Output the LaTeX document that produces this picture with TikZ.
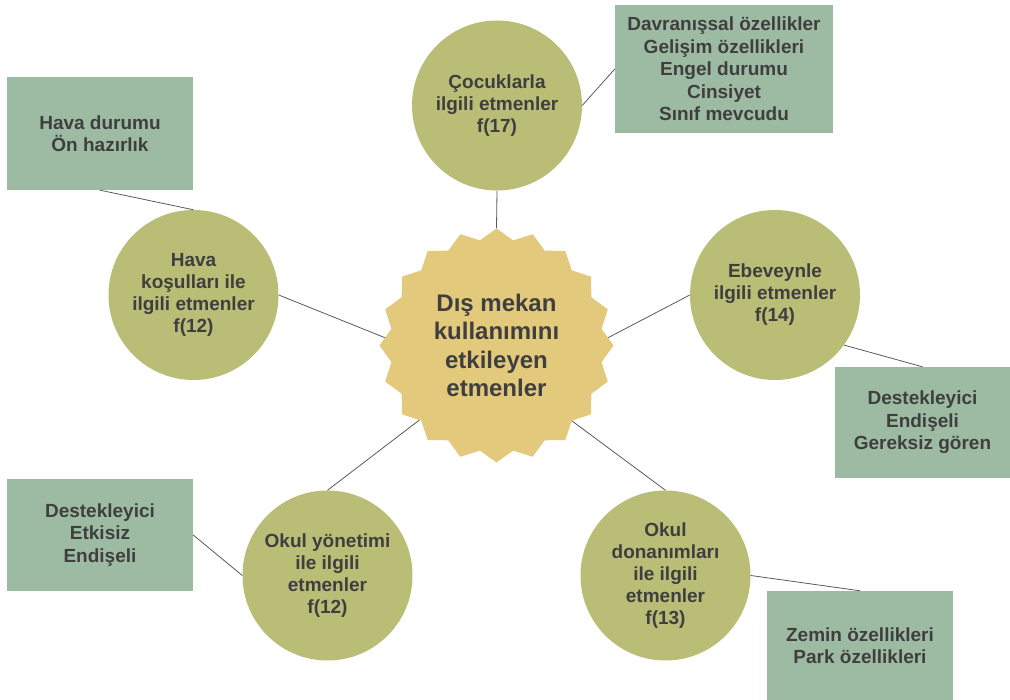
\documentclass[tikz,border=0pt]{standalone}
\usepackage{fontspec}
\setmainfont{Liberation Sans}
\usetikzlibrary{shapes.geometric}
\definecolor{olive}{HTML}{B9BD76}
\definecolor{sage}{HTML}{9DBBA2}
\definecolor{sand}{HTML}{E3C97B}
\definecolor{ink}{HTML}{3F3F3F}
\definecolor{wire}{HTML}{5A5A5A}
\begin{document}
\begin{tikzpicture}[x=1pt,y=1pt,
  circ/.style={circle,fill=olive,minimum size=170pt,inner sep=0pt,align=center,text=ink,font=\fontsize{19}{22}\selectfont\bfseries},
  box/.style={rectangle,fill=sage,inner sep=0pt,align=center,text=ink,font=\fontsize{19}{22.5}\selectfont\bfseries},
  burst/.style={star,star points=20,star point ratio=1.1,fill=sand,minimum size=234pt,inner sep=0pt,align=center,text=ink,font=\fontsize{24}{28.3}\selectfont\bfseries},
  wire/.style={draw=wire,line width=0.8pt}]
%\draw[step=50,gray,very thin] (0,0) grid (1010,700);
\path[fill=white,use as bounding box] (0,0) rectangle (1010,700);
\node[burst] (center) at (496.5,354.5) {Dış mekan\\kullanımını\\etkileyen\\etmenler};
\node[circ] (cocuk) at (497,594.5) {Çocuklarla\\ilgili etmenler\\f(17)};
\node[circ] (hava) at (193.5,405) {Hava\\koşulları ile\\ilgili etmenler\\f(12)};
\node[circ] (ebeveyn) at (775,405) {Ebeveynle\\ilgili etmenler\\f(14)};
\node[circ] (yonetim) at (327.5,124.5) {Okul yönetimi\\ile ilgili\\etmenler\\f(12)};
\node[circ] (donanim) at (665.5,124.5) {Okul\\donanımları\\ile ilgili\\etmenler\\f(13)};
\node[box,minimum width=218pt,minimum height=128pt] (cocukbox) at (724,631) {Davranışsal özellikler\\Gelişim özellikleri\\Engel durumu\\Cinsiyet\\Sınıf mevcudu};
\node[box,minimum width=186pt,minimum height=113pt] (havabox) at (100,566.5) {Hava durumu\\Ön hazırlık};
\node[box,minimum width=175pt,minimum height=111pt] (ebeveynbox) at (922.5,277.5) {Destekleyici\\Endişeli\\Gereksiz gören};
\node[box,minimum width=186pt,minimum height=112pt] (yonetimbox) at (100,165) {Destekleyici\\Etkisiz\\Endişeli};
\node[box,minimum width=186pt,minimum height=109pt] (donanimbox) at (860,54.5) {Zemin özellikleri\\Park özellikleri};
\draw[wire] (cocuk.south) -- (center.90);
\draw[wire] (cocuk.east) -- (cocukbox.west);
\draw[wire] (havabox.south) -- (hava.north);
\draw[wire] (hava.east) -- (center.176);
\draw[wire] (ebeveyn.west) -- (center.4);
\draw[wire] (ebeveyn.-36) -- (ebeveynbox.north);
\draw[wire] (yonetim.north) -- (center.224);
\draw[wire] (yonetimbox.east) -- (yonetim.west);
\draw[wire] (donanim.north) -- (center.-45);
\draw[wire] (donanim.east) -- (donanimbox.north);
\end{tikzpicture}
\end{document}
